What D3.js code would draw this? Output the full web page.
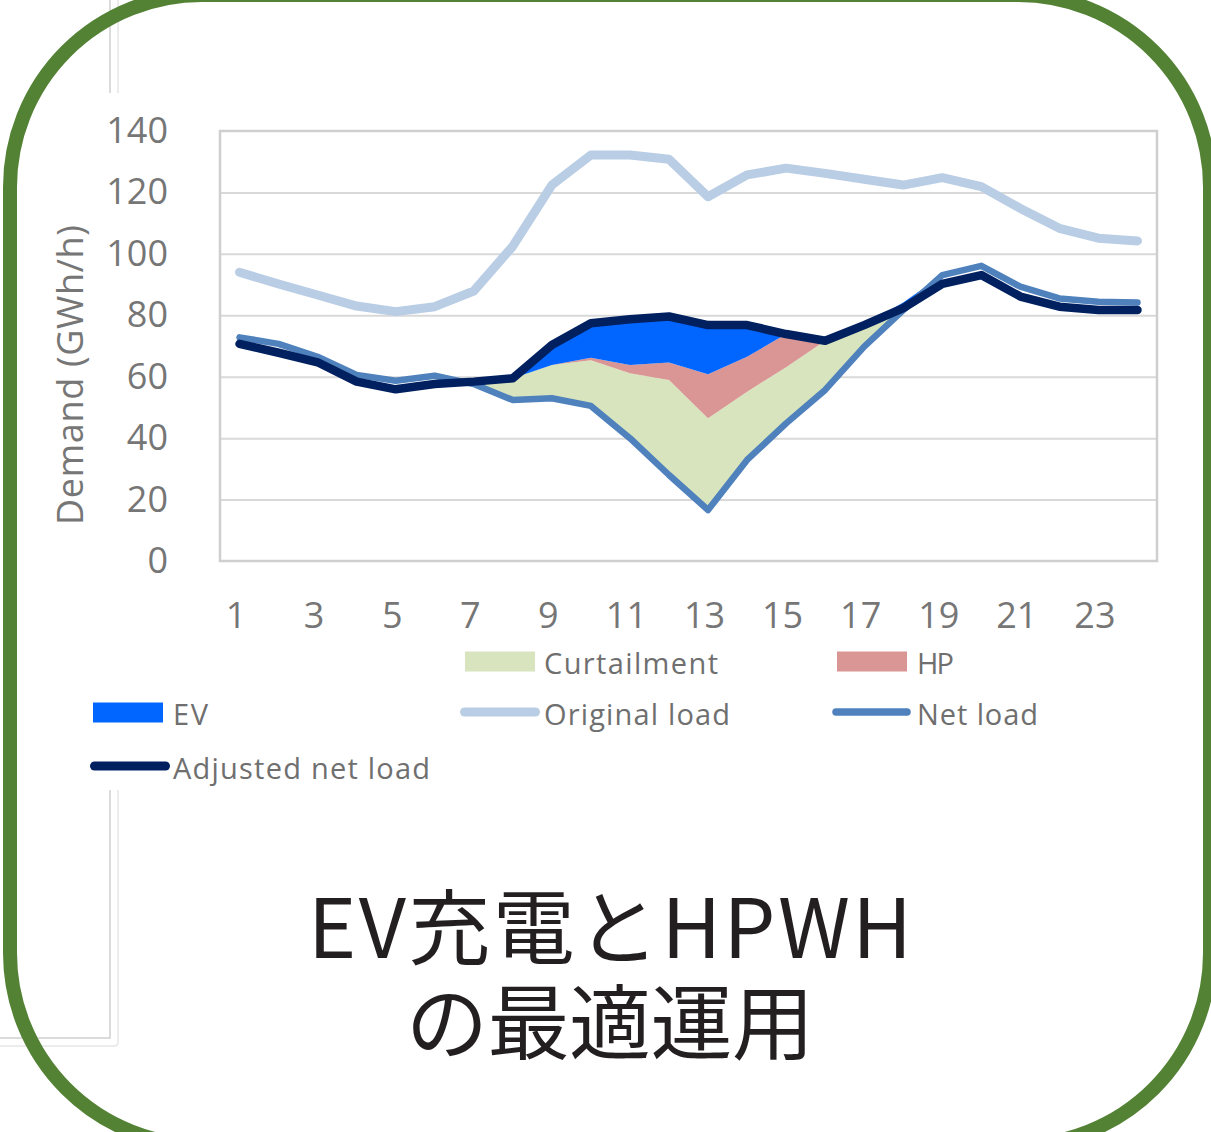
<!DOCTYPE html>
<html>
<head>
<meta charset="utf-8">
<script src="https://cdn.jsdelivr.net/npm/d3@7"></script>
<style>
  body { margin: 0; background: #fff; }
  svg { display: block; }
</style>
</head>
<body>
<script>
var hours = [1,2,3,4,5,6,7,8,9,10,11,12,13,14,15,16,17,18,19,20,21,22,23,24];
var yTicks = [0,20,40,60,80,100,120,140];
var xTicks = [1,3,5,7,9,11,13,15,17,19,21,23];

var originalLoad = [94, 90.2, 86.6, 83.0, 81.2, 82.8, 87.9, 102.5, 122.4, 132.2, 132.2, 130.8,
                    118.6, 125.7, 127.9, 126.2, 124.3, 122.4, 124.8, 121.9, 114.8, 108.3, 105.1, 104.2];
var netLoad = [72.8, 70.7, 66.5, 60.6, 58.7, 60.3, 57.6, 52.4, 53.0, 50.5, 40.0, 28.0,
               16.6, 32.9, 44.8, 55.7, 69.8, 81.7, 93.1, 96.1, 89.3, 85.5, 84.4, 84.2];
var adjustedNetLoad = [70.7, 67.8, 64.7, 58.4, 55.9, 57.6, 58.4, 59.5, 70.3, 77.4, 78.7, 79.6,
                       76.8, 76.8, 73.9, 71.7, 76.8, 82.3, 90.2, 93.1, 86.1, 82.8, 81.7, 81.7];
var curtailment = [0, 0, 0, 0, 0, 0, 0.8, 7.1, 10.8, 14.9, 21.1, 30.9,
                   29.9, 22.2, 18.3, 16.0, 7.0, 0, 0, 0, 0, 0, 0, 0];
var hp = [0, 0, 0, 0, 0, 0, 0, 0, 0, 0.8, 2.7, 5.7,
          14.3, 11.4, 10.8, 0, 0, 0, 0, 0, 0, 0, 0, 0];
var ev = [0, 0, 0, 0, 0, 0, 0, 0, 6.5, 11.2, 14.9, 15.0,
          16.0, 10.3, 0, 0, 0, 2.5, 0, 0, 0, 0, 0, 0];

var width = 1211, height = 1132;
var plotLeft = 220, plotRight = 1157, plotTop = 131, plotBottom = 561;
var tickColor = "#767676";

var svg = d3.select("body").append("svg")
            .attr("width", width)
            .attr("height", height);

svg.append("rect").attr("width", width).attr("height", height).attr("fill", "#fff");

// faint frame lines of the slide behind
var frame = svg.append("g").attr("fill", "none");
frame.append("path").attr("d", "M110,0V93M110,790V1038H0").attr("stroke", "#cfcfcf").attr("stroke-width", 1.5);
frame.append("path").attr("d", "M118,0V93M118,790V1042Q118,1046 114,1046H0").attr("stroke", "#e6e6e6").attr("stroke-width", 1.5);

var x = d3.scalePoint().domain(hours).range([plotLeft, plotRight]).padding(0.5);
var y = d3.scaleLinear().domain([0, 140]).range([plotBottom, plotTop]);

// grid
svg.append("g")
   .attr("transform", "translate(" + plotLeft + ",0)")
   .call(d3.axisLeft(y).tickValues(yTicks.slice(1, -1)).tickSize(-(plotRight - plotLeft)).tickFormat(""))
   .call(function(g) { g.select(".domain").remove(); })
   .selectAll("line").attr("stroke", "#d9d9d9").attr("stroke-width", 2);

svg.append("rect")
   .attr("x", plotLeft).attr("y", plotTop)
   .attr("width", plotRight - plotLeft).attr("height", plotBottom - plotTop)
   .attr("fill", "none").attr("stroke", "#cfcfcf").attr("stroke-width", 2.5);

// stacked areas on top of the net load
var rows = hours.map(function(h, i) {
  return {hour: h, base: netLoad[i], curtailment: curtailment[i], hp: hp[i], ev: ev[i]};
});
var stack = d3.stack().keys(["base", "curtailment", "hp", "ev"]);
var layers = stack(rows);
var areaColors = {curtailment: "#d7e4bd", hp: "#d99694", ev: "#0066ff"};

var area = d3.area()
             .x(function(d) { return x(d.data.hour); })
             .y0(function(d) { return y(d[0]); })
             .y1(function(d) { return y(d[1]); });

svg.append("g").selectAll("path")
   .data(layers.slice(1))
   .enter().append("path")
   .attr("d", area)
   .attr("fill", function(d) { return areaColors[d.key]; });

var line = d3.line()
             .x(function(d, i) { return x(hours[i]); })
             .y(function(d) { return y(d); });

var series = [
  {values: originalLoad, color: "#b9cde5", w: 9},
  {values: netLoad, color: "#4f81bd", w: 6.5},
  {values: adjustedNetLoad, color: "#002060", w: 8.5}
];
svg.append("g").selectAll("path")
   .data(series)
   .enter().append("path")
   .attr("d", function(d) { return line(d.values); })
   .attr("fill", "none")
   .attr("stroke", function(d) { return d.color; })
   .attr("stroke-width", function(d) { return d.w; })
   .attr("stroke-linejoin", "round")
   .attr("stroke-linecap", "round");

// axes labels
var yAxis = svg.append("g")
   .attr("transform", "translate(" + plotLeft + ",0)")
   .call(d3.axisLeft(y).tickValues(yTicks).tickSize(0).tickPadding(52));
yAxis.select(".domain").remove();
yAxis.selectAll("text")
     .attr("font-family", "'Open Sans', sans-serif")
     .attr("font-size", "36px")
     .attr("fill", tickColor);

var xAxis = svg.append("g")
   .attr("transform", "translate(0," + plotBottom + ")")
   .call(d3.axisBottom(x).tickValues(xTicks).tickSize(0).tickPadding(41));
xAxis.select(".domain").remove();
xAxis.selectAll("text")
     .attr("dx", "-4")
     .attr("font-family", "'Open Sans', sans-serif")
     .attr("font-size", "36px")
     .attr("fill", tickColor);

svg.append("text")
   .attr("transform", "translate(83,375) rotate(-90)")
   .attr("text-anchor", "middle")
   .attr("font-family", "'Open Sans', sans-serif")
   .attr("font-size", "36px")
   .attr("textLength", 300)
   .attr("lengthAdjust", "spacing")
   .attr("fill", tickColor)
   .text("Demand (GWh/h)");

// legend
var legend = [
  {name: "Curtailment", type: "box", color: "#d7e4bd", x: 465, y: 661.5, tx: 544, tl: 174},
  {name: "HP", type: "box", color: "#d99694", x: 837, y: 661.5, tx: 917, tl: 37},
  {name: "EV", type: "box", color: "#0066ff", x: 93, y: 712.5, tx: 173, tl: 35},
  {name: "Original load", type: "line", color: "#b9cde5", w: 9, x: 464.5, y: 712, tx: 544, tl: 186},
  {name: "Net load", type: "line", color: "#4f81bd", w: 7.5, x: 836, y: 712, tx: 917, tl: 121},
  {name: "Adjusted net load", type: "line", color: "#002060", w: 9, x: 94.5, y: 766, tx: 173, tl: 257}
];
var items = svg.append("g").selectAll("g").data(legend).enter().append("g");
items.filter(function(d) { return d.type == "box"; })
     .append("rect")
     .attr("x", function(d) { return d.x; })
     .attr("y", function(d) { return d.y - 10; })
     .attr("width", 70).attr("height", 20)
     .attr("fill", function(d) { return d.color; });
items.filter(function(d) { return d.type == "line"; })
     .append("line")
     .attr("x1", function(d) { return d.x; })
     .attr("x2", function(d) { return d.x + 71; })
     .attr("y1", function(d) { return d.y; })
     .attr("y2", function(d) { return d.y; })
     .attr("stroke", function(d) { return d.color; })
     .attr("stroke-width", function(d) { return d.w; })
     .attr("stroke-linecap", "round");
items.append("text")
     .attr("x", function(d) { return d.tx; })
     .attr("y", function(d) { return d.y + 12.5; })
     .attr("font-family", "'Open Sans', sans-serif")
     .attr("font-size", "29px")
     .attr("textLength", function(d) { return d.tl; })
     .attr("lengthAdjust", "spacing")
     .attr("fill", "#6f6f6f")
     .text(function(d) { return d.name; });

// title
var titleLines = ["EV充電とHPWH", "の最適運用"];
var titleWidths = [604, 408];
svg.append("g").selectAll("text")
   .data(titleLines)
   .enter().append("text")
   .attr("x", 610)
   .attr("y", function(d, i) { return 958 + i * 95; })
   .attr("text-anchor", "middle")
   .attr("font-family", "'Noto Sans CJK JP', sans-serif")
   .attr("font-size", "82px")
   .attr("textLength", function(d, i) { return titleWidths[i]; })
   .attr("lengthAdjust", "spacing")
   .attr("fill", "#231f20")
   .text(function(d) { return d; });

// green rounded frame
svg.append("rect")
   .attr("x", 10).attr("y", -5)
   .attr("width", 1200).attr("height", 1150)
   .attr("rx", 192)
   .attr("fill", "none")
   .attr("stroke", "#548235")
   .attr("stroke-width", 14);
</script>
</body>
</html>
